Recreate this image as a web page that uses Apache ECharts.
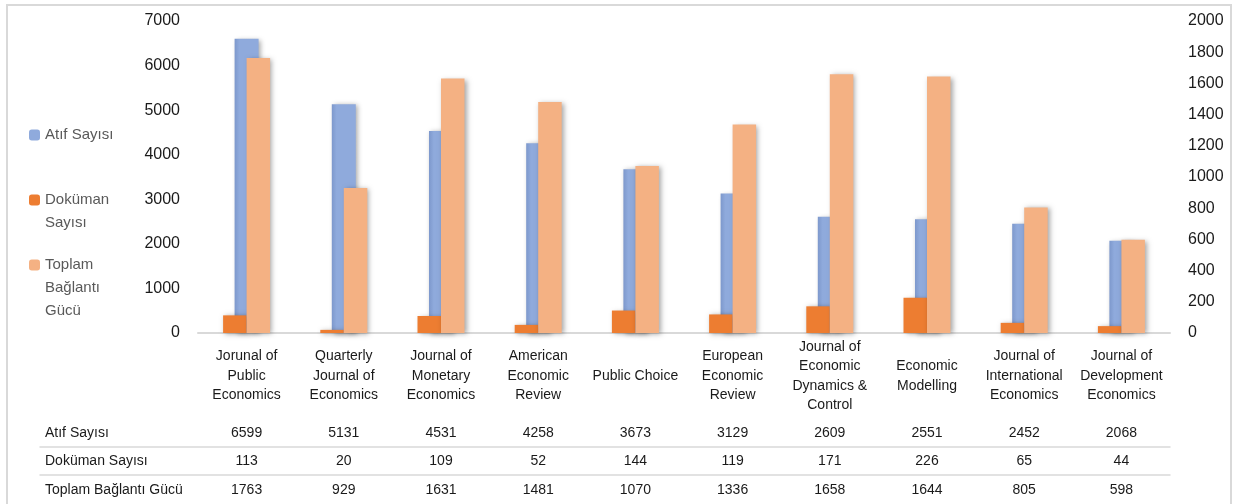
<!DOCTYPE html>
<html>
<head>
<meta charset="utf-8">
<script src="https://cdn.jsdelivr.net/npm/echarts@6/dist/echarts.min.js"></script>
<style>
  html, body { margin: 0; padding: 0; background: #fff; }
  #chart { width: 1237px; height: 504px; position: absolute; left: 0; top: 0; }
  #frame { position: absolute; left: 6px; top: 4px; width: 1222px; height: 520px; border: 2px solid #d9d9d9; pointer-events: none; }
</style>
</head>
<body>
<div id="chart"></div>
<div id="frame"></div>
<script>
// ---- data ----
const categories = [
  'Jorunal of\nPublic\nEconomics',
  'Quarterly\nJournal of\nEconomics',
  'Journal of\nMonetary\nEconomics',
  'American\nEconomic\nReview',
  'Public Choice',
  'European\nEconomic\nReview',
  'Journal of\nEconomic\nDynamics &\nControl',
  'Economic\nModelling',
  'Journal of\nInternational\nEconomics',
  'Journal of\nDevelopment\nEconomics'
];
const seriesNames = ['Atıf Sayısı', 'Doküman Sayısı', 'Toplam Bağlantı Gücü'];
const atifSayisi = [6599, 5131, 4531, 4258, 3673, 3129, 2609, 2551, 2452, 2068];
const dokumanSayisi = [113, 20, 109, 52, 144, 119, 171, 226, 65, 44];
const toplamBaglantiGucu = [1763, 929, 1631, 1481, 1070, 1336, 1658, 1644, 805, 598];
const leftTicks = { min: 0, max: 7000, interval: 1000 };
const rightTicks = { min: 0, max: 2000, interval: 200 };

// ---- styling ----
const FONT = '"Liberation Sans", Arial, sans-serif';
const TXT = '#1a1a1a';
const GRID_LEFT = 198, GRID_RIGHT = 67, GRID_TOP = 21, GRID_BOTTOM = 171;
const C_BLUE = '#8FAADC', C_ORANGE = '#ED7D31', C_PEACH = '#F4B183';
const shadow = { shadowBlur: 5, shadowColor: 'rgba(0,0,0,0.35)', shadowOffsetX: 2, shadowOffsetY: 1 };

function rowAxis(name, values, offset) {
  return {
    type: 'category', gridIndex: 0, data: categories, position: 'bottom', offset: offset,
    axisLine: { show: false }, axisTick: { show: false },
    axisLabel: {
      interval: 0, margin: 0, verticalAlign: 'middle', fontSize: 14, fontFamily: FONT, color: TXT,
      formatter: function (v, i) { return String(values[i]); }
    },
    name: name, nameLocation: 'start', nameGap: GRID_LEFT - 45,
    nameTextStyle: { align: 'left', verticalAlign: 'middle', fontSize: 14, fontFamily: FONT, color: TXT }
  };
}

function legendFor(idx, color, top) {
  return {
    left: 29, top: top, orient: 'vertical', padding: 0,
    itemWidth: 11, itemHeight: 11,
    data: [{ name: seriesNames[idx], itemStyle: { color: color } }],
    itemStyle: { shadowBlur: 0, shadowOffsetX: 0, shadowOffsetY: 0 },
    textStyle: { fontSize: 15, fontFamily: FONT, color: '#595959', lineHeight: 23 },
    formatter: function (name) {
      const parts = name.split(' ');
      if (idx === 0) return name;
      return '\n'.repeat(parts.length - 1) + parts.join('\n');
    }
  };
}

function sepAxis(pos) {
  return {
    type: 'value', gridIndex: 1, position: pos, min: 0, max: 1,
    axisLine: { show: true, onZero: false, lineStyle: { color: '#d9d9d9', width: 1.5 } },
    axisTick: { show: false }, axisLabel: { show: false }, splitLine: { show: false }
  };
}

const plain = function (v) { return String(v); };

const chart = echarts.init(document.getElementById('chart'), null, { renderer: 'canvas' });
const option = {
  backgroundColor: '#fff',
  animation: false,
  legend: [
    legendFor(0, C_BLUE, 123.5),
    legendFor(1, C_ORANGE, 165.5),
    legendFor(2, C_PEACH, 207.5)
  ],
  grid: [
    { left: GRID_LEFT, right: GRID_RIGHT, top: GRID_TOP, bottom: GRID_BOTTOM },
    { left: 40, right: GRID_RIGHT, top: 447, bottom: 29 }
  ],
  xAxis: [
    {
      type: 'category', gridIndex: 0, data: categories, position: 'bottom',
      axisLine: { show: true, lineStyle: { color: '#d9d9d9', width: 2 } },
      axisTick: { show: false },
      axisLabel: { interval: 0, margin: 43, verticalAlign: 'middle', fontSize: 14, lineHeight: 19.5, fontFamily: FONT, color: TXT }
    },
    { type: 'category', gridIndex: 0, data: categories, show: false },
    rowAxis(seriesNames[0], atifSayisi, 100),
    rowAxis(seriesNames[1], dokumanSayisi, 128),
    rowAxis(seriesNames[2], toplamBaglantiGucu, 157),
    sepAxis('top'),
    sepAxis('bottom')
  ],
  yAxis: [
    {
      type: 'value', gridIndex: 0, position: 'left',
      min: leftTicks.min, max: leftTicks.max, interval: leftTicks.interval,
      axisLine: { show: false }, axisTick: { show: false }, splitLine: { show: false },
      axisLabel: { margin: 18, fontSize: 16, fontFamily: FONT, color: TXT, formatter: plain }
    },
    {
      type: 'value', gridIndex: 0, position: 'right',
      min: rightTicks.min, max: rightTicks.max, interval: rightTicks.interval,
      axisLine: { show: false }, axisTick: { show: false }, splitLine: { show: false },
      axisLabel: { margin: 18, fontSize: 16, fontFamily: FONT, color: TXT, formatter: plain }
    },
    { type: 'value', gridIndex: 1, show: false, min: 0, max: 1 }
  ],
  series: [
    {
      name: seriesNames[0], type: 'bar', xAxisIndex: 0, yAxisIndex: 0, z: 1,
      barWidth: 24, data: atifSayisi,
      itemStyle: Object.assign({
        color: { type: 'linear', x: 0, y: 0, x2: 1, y2: 0, colorStops: [
          { offset: 0, color: '#7d98cc' }, { offset: 0.2, color: C_BLUE }, { offset: 1, color: C_BLUE }
        ] }
      }, shadow)
    },
    {
      name: seriesNames[1], type: 'bar', xAxisIndex: 1, yAxisIndex: 1, z: 3,
      barWidth: 23.5, barGap: 0, data: dokumanSayisi,
      itemStyle: Object.assign({ color: C_ORANGE }, shadow)
    },
    {
      name: seriesNames[2], type: 'bar', xAxisIndex: 1, yAxisIndex: 1, z: 3,
      barWidth: 23.5, barGap: 0, data: toplamBaglantiGucu,
      itemStyle: Object.assign({ color: C_PEACH }, shadow)
    }
  ]
};
chart.setOption(option);
</script>
</body>
</html>
